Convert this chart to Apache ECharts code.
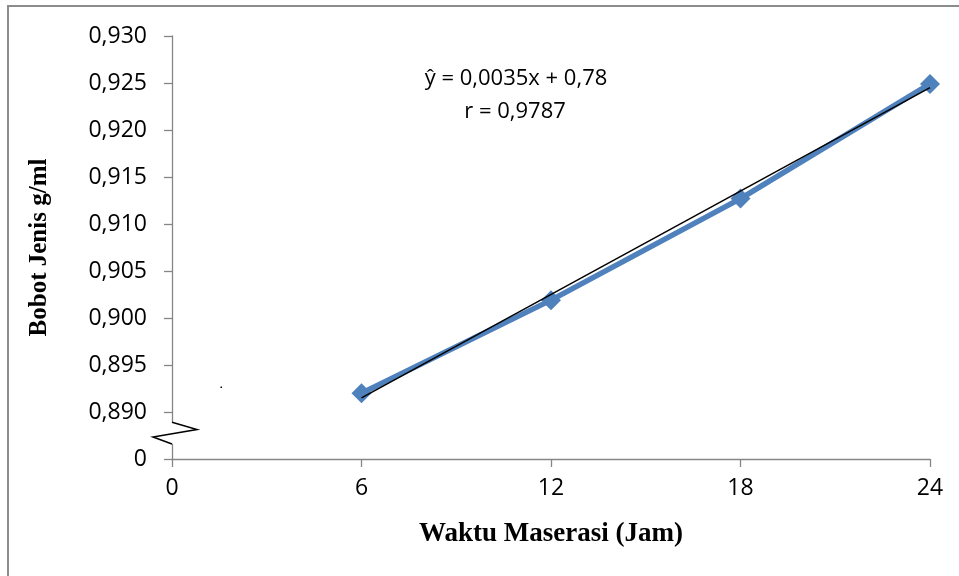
<!DOCTYPE html>
<html>
<head>
<meta charset="utf-8">
<script src="https://cdn.jsdelivr.net/npm/echarts@6/dist/echarts.min.js"></script>
<style>html,body{margin:0;padding:0;background:#fff}#c{width:959px;height:576px}</style>
</head>
<body>
<div id="c"></div>
<script>
// Data
const waktu = [6, 12, 18, 24];
const bobotJenis = [0.8920, 0.9019, 0.9127, 0.9249];
const trendX = [6, 24];
const trendY = [0.8915, 0.9245];
const xTicks = [0, 6, 12, 18, 24];
const yTickLabels = ['0', '0,890', '0,895', '0,900', '0,905', '0,910', '0,915', '0,920', '0,925', '0,930'];
const yMin = 0.885, yMax = 0.930, yStep = 0.005;
const breakRange = [0.8889, 0.8866];
const eqText = 'ŷ = 0,0035x + 0,78';
const rText = 'r = 0,9787';
const xTitle = 'Waktu Maserasi (Jam)';
const yTitle = 'Bobot Jenis g/ml';

const chart = echarts.init(document.getElementById('c'), null, {renderer: 'canvas'});
const axisGray = '#868686';
const labelFont = {fontFamily: 'Open Sans', fontSize: 23, color: '#000'};

chart.setOption({
  animation: false,
  grid: {left: 172, right: 29, top: 36, bottom: 117, containLabel: false},
  xAxis: {
    type: 'value', min: xTicks[0], max: xTicks[xTicks.length - 1], interval: 6,
    name: xTitle, nameLocation: 'middle', nameGap: 62,
    nameTextStyle: {fontFamily: 'Liberation Serif', fontWeight: 'bold', fontSize: 27, color: '#000'},
    axisLine: {show: true, onZero: false, lineStyle: {color: axisGray, width: 1.3}},
    axisTick: {show: true, inside: false, length: 8, lineStyle: {color: axisGray, width: 1.3}},
    axisLabel: Object.assign({margin: 18}, labelFont),
    splitLine: {show: false}
  },
  yAxis: {
    type: 'value', min: yMin, max: yMax, interval: yStep,
    name: yTitle, nameLocation: 'middle', nameGap: 120,
    nameTextStyle: {fontFamily: 'Liberation Serif', fontWeight: 'bold', fontSize: 25, color: '#000'},
    axisLine: {show: true, lineStyle: {color: axisGray, width: 1.3}},
    axisTick: {show: true, inside: false, length: 8, lineStyle: {color: axisGray, width: 1.3}},
    axisLabel: Object.assign({
      margin: 25,
      formatter: function (v) {
        const i = Math.round((v - yMin) / yStep);
        return yTickLabels[i] !== undefined ? yTickLabels[i] : '';
      }
    }, labelFont),
    splitLine: {show: false}
  },
  series: [
    {
      type: 'line', name: 'Bobot Jenis',
      data: waktu.map((x, i) => [x, bobotJenis[i]]),
      symbol: 'diamond', symbolSize: 20,
      lineStyle: {color: '#4F81BD', width: 5.5},
      itemStyle: {color: '#4F81BD'},
      z: 2
    },
    {
      type: 'line', name: 'Trend',
      data: trendX.map((x, i) => [x, trendY[i]]),
      symbol: 'none',
      lineStyle: {color: '#000', width: 1.5},
      z: 3
    }
  ]
});

const p1 = chart.convertToPixel({gridIndex: 0}, [0, breakRange[0]]);
const p2 = chart.convertToPixel({gridIndex: 0}, [0, breakRange[1]]);
const ax = p1[0], yA = p1[1], yB = p2[1], h = yB - yA;

chart.setOption({
  graphic: [
    {type: 'rect', shape: {x: 8, y: 6, width: 1000, height: 1000}, style: {fill: 'none', stroke: '#8c8c8c', lineWidth: 2}, z: 100},
    {type: 'rect', shape: {x: ax - 2, y: yA, width: 4, height: h}, style: {fill: '#fff'}, z: 100},
    {type: 'polyline', shape: {points: [[ax, yA], [ax + 25, yA + h * 0.33], [ax - 19, yA + h * 0.68], [ax, yB]]},
      style: {stroke: '#000', lineWidth: 1.5, fill: 'none'}, z: 101},
    {type: 'rect', shape: {x: 220.5, y: 386.5, width: 1.5, height: 1.5}, style: {fill: '#000'}, z: 100},
    {type: 'text', x: 516, y: 79, style: {text: eqText, fontFamily: 'Open Sans', fontSize: 22, fill: '#000', align: 'center', verticalAlign: 'middle'}, z: 100},
    {type: 'text', x: 515, y: 112, style: {text: rText, fontFamily: 'Open Sans', fontSize: 22, fill: '#000', align: 'center', verticalAlign: 'middle'}, z: 100}
  ]
});
</script>
</body>
</html>
